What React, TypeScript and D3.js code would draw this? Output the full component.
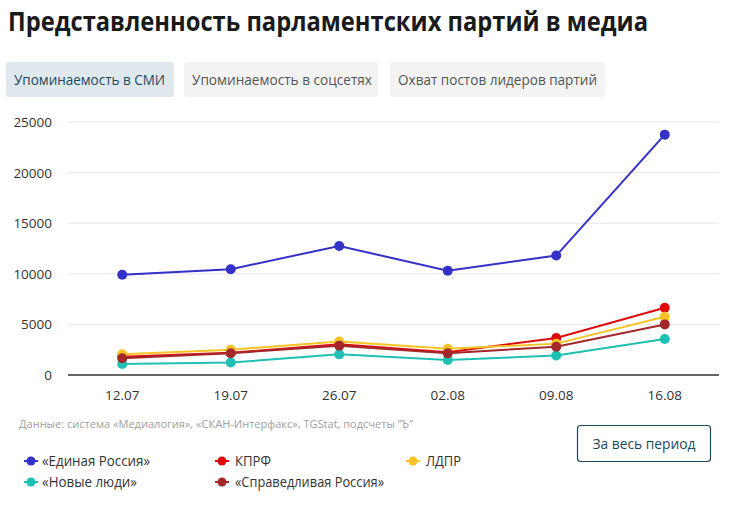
import React from 'react';
import * as d3 from 'd3';

const dates = ['12.07', '19.07', '26.07', '02.08', '09.08', '16.08'];
const yTicks = [0, 5000, 10000, 15000, 20000, 25000];

const erValues = [9900, 10450, 12750, 10300, 11800, 23750];
const kprfValues = [1800, 2200, 3050, 2250, 3650, 6650];
const ldprValues = [2050, 2500, 3300, 2600, 3100, 5750];
const nlValues = [1080, 1230, 2040, 1480, 1920, 3550];
const srValues = [1650, 2150, 2900, 2150, 2800, 5000];

const seriesNames = ['«Единая Россия»', 'КПРФ', 'ЛДПР', '«Новые люди»', '«Справедливая Россия»'];
const seriesColors = ['#3431c9', '#dd0a0a', '#f6c324', '#1ec0b4', '#a3282b'];
const seriesValues = [erValues, kprfValues, ldprValues, nlValues, srValues];

const tabs = ['Упоминаемость в СМИ', 'Упоминаемость в соцсетях', 'Охват постов лидеров партий'];

const FONT = '"Open Sans", "Noto Sans", sans-serif';

export default function App() {
  const margin = { left: 68, right: 13, top: 122, bottom: 130 };
  const W = 732;
  const H = 505;

  const x = d3.scaleBand<string>().domain(dates).range([margin.left, W - margin.right]);
  const y = d3.scaleLinear().domain([0, 25000]).range([H - margin.bottom, margin.top]);
  const cx = (d: string) => (x(d) ?? 0) + x.bandwidth() / 2;

  const line = d3
    .line<number>()
    .x((_, i) => cx(dates[i]))
    .y((v) => y(v));

  // tab geometry
  const tabBoxes = [
    { x0: 6, x1: 174, tx: 14, tw: 151 },
    { x0: 184, x1: 378, tx: 192, tw: 180 },
    { x0: 390, x1: 605, tx: 398, tw: 199 },
  ];

  // legend layout
  const legendPos = [
    { mx: 31, tx: 42, ty: 466, tw: 108 },
    { mx: 222, tx: 235, ty: 466, tw: 36 },
    { mx: 413, tx: 426, ty: 466, tw: 35 },
    { mx: 31, tx: 42, ty: 487, tw: 95 },
    { mx: 222, tx: 235, ty: 487, tw: 149 },
  ];

  return (
    <div style={{ position: 'absolute', left: 0, top: 0 }}>
      <svg width={W} height={H} style={{ display: 'block', fontFamily: FONT }}>
        <rect width={W} height={H} fill="#fff" />
        <text
          x={8}
          y={31}
          fontSize={26}
          fontWeight={700}
          fill="#1a1a1a"
          textLength={640}
          lengthAdjust="spacingAndGlyphs"
        >
          Представленность парламентских партий в медиа
        </text>

        {tabs.map((t, i) => (
          <g key={t}>
            <rect
              x={tabBoxes[i].x0}
              y={62}
              width={tabBoxes[i].x1 - tabBoxes[i].x0}
              height={35}
              rx={3}
              fill={i === 0 ? '#dfe8ed' : '#f3f3f3'}
            />
            <text
              x={tabBoxes[i].tx}
              y={85}
              fontSize={15}
              fill={i === 0 ? '#1c4a5c' : '#555'}
              textLength={tabBoxes[i].tw}
              lengthAdjust="spacingAndGlyphs"
            >
              {t}
            </text>
          </g>
        ))}

        {yTicks.map((t) => (
          <g key={t}>
            {t > 0 && (
              <line x1={margin.left} x2={W - margin.right} y1={y(t)} y2={y(t)} stroke="#e6e6e6" strokeWidth={1} />
            )}
            <text x={52} y={y(t) + 5} fontSize={13.5} fill="#333" textAnchor="end">
              {t}
            </text>
          </g>
        ))}
        <line
          x1={margin.left}
          x2={W - margin.right}
          y1={y(0)}
          y2={y(0)}
          stroke="#333"
          strokeWidth={1.5}
        />
        {dates.map((d) => (
          <text key={d} x={cx(d)} y={y(0) + 25} fontSize={13.5} fill="#333" textAnchor="middle">
            {d}
          </text>
        ))}

        {seriesValues.map((vals, s) => (
          <g key={seriesNames[s]}>
            <path d={line(vals) ?? ''} fill="none" stroke={seriesColors[s]} strokeWidth={2} />
            {vals.map((v, i) => (
              <circle key={i} cx={cx(dates[i])} cy={y(v)} r={5} fill={seriesColors[s]} />
            ))}
          </g>
        ))}

        <text
          x={19}
          y={428}
          fontSize={11.5}
          fill="#a0a0a0"
          textLength={394}
          lengthAdjust="spacingAndGlyphs"
        >
          Данные: система «Медиалогия», «СКАН-Интерфакс», TGStat, подсчеты ”Ъ”
        </text>

        <rect x={577.5} y={425.5} width={133} height={36} rx={3} fill="#fff" stroke="#1c4a5c" strokeWidth={1.2} />
        <text x={644} y={449} fontSize={15} fill="#1c4a5c" textAnchor="middle" textLength={103} lengthAdjust="spacingAndGlyphs">
          За весь период
        </text>

        {seriesNames.map((n, s) => (
          <g key={n}>
            <line
              x1={legendPos[s].mx - 7}
              x2={legendPos[s].mx + 7}
              y1={legendPos[s].ty - 5}
              y2={legendPos[s].ty - 5}
              stroke={seriesColors[s]}
              strokeWidth={2}
            />
            <circle cx={legendPos[s].mx} cy={legendPos[s].ty - 5} r={4.5} fill={seriesColors[s]} />
            <text
              x={legendPos[s].tx}
              y={legendPos[s].ty}
              fontSize={14}
              fill="#333"
              textLength={legendPos[s].tw}
              lengthAdjust="spacingAndGlyphs"
            >
              {n}
            </text>
          </g>
        ))}
      </svg>
    </div>
  );
}
